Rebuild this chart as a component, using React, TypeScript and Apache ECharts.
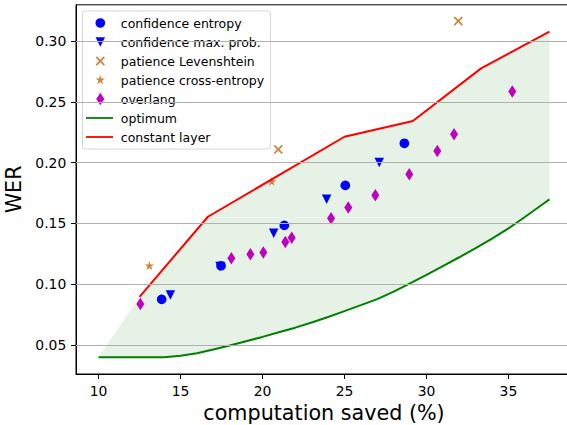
import React, { useEffect, useRef } from "react";
import * as echarts from "echarts";

// ---- data ----
const xTicks = [10, 15, 20, 25, 30, 35];
const yTicks = [0.05, 0.1, 0.15, 0.2, 0.25, 0.3];
const xRange = [8.625, 38.875];
const yRange = [0.0262, 0.3298];

const confEntropyX = [13.85, 17.47, 21.33, 25.05, 28.65];
const confEntropyY = [0.0876, 0.1152, 0.1484, 0.1813, 0.2159];

const confMaxProbX = [14.38, 17.41, 20.68, 23.91, 27.12];
const confMaxProbY = [0.0911, 0.1146, 0.1419, 0.1698, 0.2002];

const patLevX = [20.96, 31.94];
const patLevY = [0.2109, 0.3164];

const patCeX = [13.1, 20.56];
const patCeY = [0.115, 0.1843];

const overlangX = [12.55, 18.1, 19.26, 20.05, 21.39, 21.78, 24.18, 25.23, 26.88, 28.95, 30.66, 31.68, 35.23];
const overlangY = [0.0837, 0.1213, 0.1246, 0.1262, 0.1347, 0.1382, 0.1542, 0.1632, 0.1731, 0.1904, 0.2095, 0.2233, 0.2586];

const optimumX = [10, 14, 15, 16, 17, 18, 19, 20, 21, 22, 23, 24, 25, 26, 27, 28, 29, 30, 31, 32, 33, 34, 35, 36, 37, 37.5];
const optimumY = [0.04, 0.04, 0.0412, 0.0432, 0.0463, 0.0497, 0.0532, 0.0567, 0.0605, 0.0643, 0.0686, 0.0731, 0.0779, 0.0828, 0.0878, 0.094, 0.1008, 0.1078, 0.115, 0.1222, 0.1297, 0.1375, 0.146, 0.1553, 0.165, 0.1698];

const constantX = [12.5, 16.67, 25, 29.17, 33.33, 37.5];
const constantY = [0.0897, 0.1555, 0.2213, 0.2342, 0.2775, 0.3077];

const fillStart = [10, 0.04];

const legendNames = [
  "confidence entropy",
  "confidence max. prob.",
  "patience Levenshtein",
  "patience cross-entropy",
  "overlang",
  "optimum",
  "constant layer",
];

// ---- styling helpers ----
const FONT = "'DejaVu Sans', sans-serif";
const BLUE = "#0000ff";
const PERU = "#cd853f";
const MAGENTA = "#bf00bf";
const GREEN = "#008000";
const RED = "#ff0000";

const f = (n: number) => n.toFixed(2);
function poly(pts: number[][]) {
  return pts.map((p, i) => (i ? "L" : "M") + f(p[0]) + " " + f(p[1])).join("") + "Z";
}
function circ(cx: number, cy: number, r: number) {
  return `M${f(cx - r)} ${f(cy)}A${r} ${r} 0 1 0 ${f(cx + r)} ${f(cy)}A${r} ${r} 0 1 0 ${f(cx - r)} ${f(cy)}Z`;
}
function triDown(cx: number, cy: number, s: number) {
  return poly([[cx - s / 2, cy - s / 2], [cx + s / 2, cy - s / 2], [cx, cy + s / 2]]);
}
function xMark(cx: number, cy: number, s: number, t: number) {
  const a = t / Math.SQRT2;
  const x0 = cx - s / 2, y0 = cy - s / 2, h = s / 2;
  return poly([
    [x0, y0 + a], [x0 + a, y0], [x0 + h, y0 + h - a], [x0 + s - a, y0], [x0 + s, y0 + a],
    [x0 + h + a, y0 + h], [x0 + s, y0 + s - a], [x0 + s - a, y0 + s], [x0 + h, y0 + h + a],
    [x0 + a, y0 + s], [x0, y0 + s - a], [x0 + h - a, y0 + h],
  ]);
}
function star(cx: number, cy: number, R: number) {
  const r = R * 0.382;
  const pts: number[][] = [];
  for (let k = 0; k < 10; k++) {
    const ang = (-90 + k * 36) * Math.PI / 180;
    const rr = k % 2 === 0 ? R : r;
    pts.push([cx + rr * Math.cos(ang), cy + rr * Math.sin(ang)]);
  }
  return poly(pts);
}
function diamond(cx: number, cy: number, w: number, h: number) {
  return poly([[cx, cy - h / 2], [cx + w / 2, cy], [cx, cy + h / 2], [cx - w / 2, cy]]);
}

// series symbols in a 10x10 box
const PAD10 = "M0 0M10 10";
const symTri = "path://" + PAD10 + triDown(5, 5, 10);
const symX = "path://" + PAD10 + xMark(5, 5, 10, 1.9);
const symStar = "path://" + PAD10 + star(5, 5, 5);

// legend icons in a 31x14 box
const LW = 31, LH = 14;
const PADL = `M0 0M${LW} ${LH}`;
const cx = 15.5, cy = 7;
const legIcons = [
  "path://" + PADL + circ(cx, cy, 4.85),
  "path://" + PADL + triDown(cx, cy, 9.5),
  "path://" + PADL + xMark(cx, cy, 9.3, 1.8),
  "path://" + PADL + star(cx, cy, 5.1),
  "path://" + PADL + diamond(cx, cy, 8, 12.5),
  "path://" + PADL + poly([[1.2, 6.1], [28.2, 6.1], [28.2, 7.9], [1.2, 7.9]]),
  "path://" + PADL + poly([[1.2, 6.1], [28.2, 6.1], [28.2, 7.9], [1.2, 7.9]]),
];
const legColors = [BLUE, BLUE, PERU, PERU, MAGENTA, GREEN, RED];

const zip = (xs: number[], ys: number[]) => xs.map((x, i) => [x, ys[i]]);

export default function App() {
  const ref = useRef<HTMLDivElement>(null);
  useEffect(() => {
    if (!ref.current) return;
    const chart = echarts.init(ref.current, undefined, { renderer: "svg" });
    const option: any = {
      animation: false,
      backgroundColor: "#ffffff",
      textStyle: { fontFamily: FONT },
      grid: {
        left: 76,
        top: 4.8,
        width: 496,
        height: 369.2,
        show: true,
        borderColor: "#000",
        borderWidth: 1,
        backgroundColor: "transparent",
        containLabel: false,
        outerBoundsMode: "none",
      },
      legend: {
        left: 82.5,
        top: 11,
        orient: "vertical",
        padding: [5, 6.2, 5, 2.3],
        itemWidth: LW,
        itemHeight: LH,
        itemGap: 5,
        selectedMode: false,
        backgroundColor: "rgba(255,255,255,0.8)",
        borderColor: "#d6d6d6",
        borderWidth: 1,
        borderRadius: 3,
        textStyle: { fontFamily: FONT, fontSize: 12.5, color: "#000", lineHeight: 14 },
        data: legendNames.map((n, i) => ({
          name: n,
          icon: legIcons[i],
          itemStyle: { color: legColors[i], borderWidth: 0 },
        })),
      },
      xAxis: {
        type: "value",
        min: xRange[0],
        max: xRange[1],
        name: "computation saved (%)",
        nameLocation: "middle",
        nameGap: 28,
        nameTextStyle: { fontFamily: FONT, fontSize: 20.7, color: "#000" },
        axisLine: { show: true, lineStyle: { color: "#000", width: 1 } },
        axisTick: { show: true, length: 5, lineStyle: { color: "#000", width: 1 }, customValues: xTicks },
        axisLabel: {
          customValues: xTicks,
          fontFamily: FONT,
          fontSize: 13.9,
          color: "#000",
          margin: 9.7,
          formatter: (v: number) => String(v),
        },
        splitLine: { show: false },
      },
      yAxis: {
        type: "value",
        min: yRange[0],
        max: yRange[1],
        name: "WER",
        nameLocation: "middle",
        nameGap: 48,
        nameTextStyle: { fontFamily: FONT, fontSize: 20.7, color: "#000" },
        axisLine: { show: true, lineStyle: { color: "#000", width: 1 } },
        axisTick: { show: true, length: 5, lineStyle: { color: "#000", width: 1 }, customValues: yTicks },
        axisLabel: {
          customValues: yTicks,
          fontFamily: FONT,
          fontSize: 13.9,
          color: "#000",
          margin: 9.7,
          formatter: (v: number) => v.toFixed(2),
        },
        splitLine: { show: false },
      },
      series: [
        {
          name: "fill",
          type: "custom",
          coordinateSystem: "cartesian2d",
          silent: true,
          z: 1,
          data: [fillStart],
          renderItem: (_p: any, api: any) => {
            const upper = [fillStart, ...zip(constantX, constantY)];
            const lower = zip(optimumX, optimumY).reverse();
            const points = upper.concat(lower).map((p) => api.coord(p));
            return {
              type: "polygon",
              shape: { points },
              style: { fill: "rgba(0,128,0,0.1)", stroke: "none" },
            };
          },
        },
        {
          name: "gridlines",
          type: "line",
          z: 1,
          silent: true,
          data: [],
          markLine: {
            silent: true,
            symbol: ["none", "none"],
            label: { show: false },
            emphasis: { disabled: true },
            lineStyle: { color: "#b0b0b0", width: 1, type: "solid" },
            data: yTicks.map((v) => ({ yAxis: v })),
          },
        },
        {
          name: "confidence entropy",
          type: "scatter",
          z: 2,
          symbol: "circle",
          symbolSize: 9.7,
          itemStyle: { color: BLUE, opacity: 1 },
          data: zip(confEntropyX, confEntropyY),
        },
        {
          name: "confidence max. prob.",
          type: "scatter",
          z: 2,
          symbol: symTri,
          symbolSize: 9.5,
          itemStyle: { color: BLUE, opacity: 1 },
          data: zip(confMaxProbX, confMaxProbY),
        },
        {
          name: "patience Levenshtein",
          type: "scatter",
          z: 2,
          symbol: symX,
          symbolSize: 9.3,
          itemStyle: { color: PERU, opacity: 1 },
          data: zip(patLevX, patLevY),
        },
        {
          name: "patience cross-entropy",
          type: "scatter",
          z: 2,
          symbol: symStar,
          symbolSize: 10,
          itemStyle: { color: PERU, opacity: 1 },
          data: zip(patCeX, patCeY),
        },
        {
          name: "overlang",
          type: "scatter",
          z: 2,
          symbol: "diamond",
          symbolSize: [8, 12.5],
          itemStyle: { color: MAGENTA, opacity: 1 },
          data: zip(overlangX, overlangY),
        },
        {
          name: "optimum",
          type: "line",
          z: 3,
          symbol: "none",
          showSymbol: false,
          lineStyle: { color: GREEN, width: 2 },
          itemStyle: { color: GREEN },
          data: zip(optimumX, optimumY),
        },
        {
          name: "constant layer",
          type: "line",
          z: 3,
          symbol: "none",
          showSymbol: false,
          lineStyle: { color: RED, width: 2 },
          itemStyle: { color: RED },
          data: zip(constantX, constantY),
        },
      ],
    };
    chart.setOption(option);
    return () => chart.dispose();
  }, []);
  return (
    <div
      ref={ref}
      style={{ position: "fixed", left: 0, top: 0, width: 567, height: 425 }}
    />
  );
}
